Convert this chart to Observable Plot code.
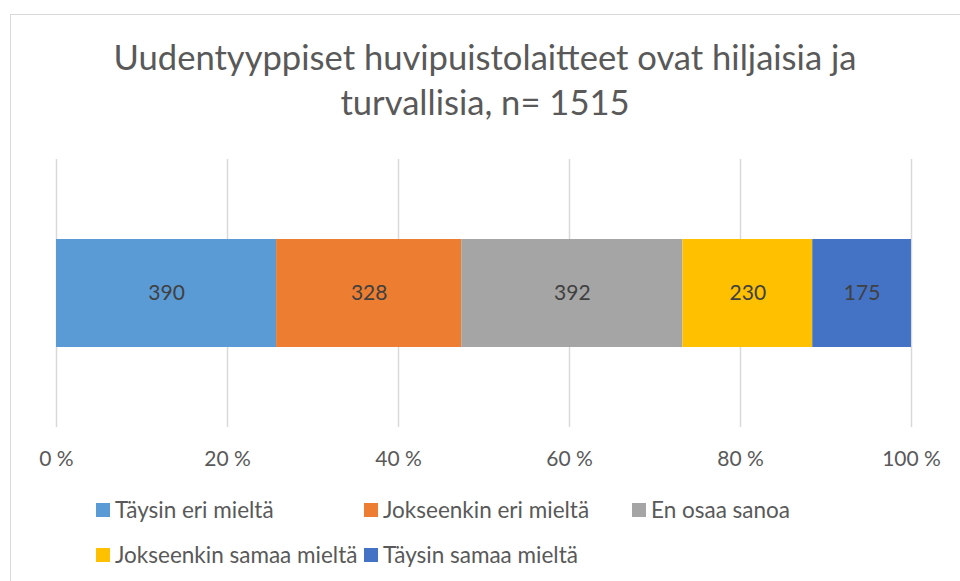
<!DOCTYPE html>
<html><head><meta charset="utf-8">
<script src="https://cdn.jsdelivr.net/npm/d3@7"></script>
<script src="https://cdn.jsdelivr.net/npm/@observablehq/plot@0.6"></script>
<style>
body{margin:0;background:#fff;font-family:Lato,sans-serif}
#wrap{position:relative;width:960px;height:581px;overflow:hidden}
#frame{position:absolute;left:10px;top:14px;width:980px;height:620px;border:1.5px solid #d9d9d9;box-sizing:border-box}
#chart{position:absolute;left:0;top:0}
#title{position:absolute;left:10px;width:950px;top:34px;text-align:center;font-size:34.6px;line-height:45px;color:#595959}
.item{position:absolute;display:flex;align-items:center;font-size:22.5px;color:#595959;white-space:nowrap}
.sw{width:14px;height:14px;margin-right:5px}
</style></head>
<body>
<div id="wrap">
  <div id="frame"></div>
  <div id="chart"></div>
  <div id="title">Uudentyyppiset huvipuistolaitteet ovat hiljaisia ja<br>turvallisia, n= 1515</div>
</div>
<script>
const categories = ["Täysin eri mieltä","Jokseenkin eri mieltä","En osaa sanoa","Jokseenkin samaa mieltä","Täysin samaa mieltä"];
const counts = [390, 328, 392, 230, 175];
const colors = ["#5B9BD5","#ED7D31","#A5A5A5","#FFC000","#4472C4"];
const xTicks = [0, 0.2, 0.4, 0.6, 0.8, 1];

const data = categories.map((c, i) => ({category: c, value: counts[i], row: "n"}));

const chart = Plot.plot({
  width: 960, height: 581,
  marginLeft: 56, marginRight: 49, marginTop: 159, marginBottom: 154,
  style: {fontFamily: "Lato, sans-serif", background: "transparent"},
  x: {domain: [0, 1], ticks: xTicks, tickFormat: d => Math.round(d * 100) + " %", grid: false, label: null},
  y: {domain: ["n"], padding: 0.4255, axis: null, label: null},
  color: {domain: categories, range: colors},
  marks: [
    Plot.gridX(xTicks, {stroke: "#d9d9d9", strokeOpacity: 1, strokeWidth: 1.5}),
    Plot.axisX({ticks: xTicks, tickSize: 0, tickPadding: 24, fontSize: 21, fill: "#595959", tickFormat: d => Math.round(d * 100) + " %", label: null}),
    Plot.barX(data, Plot.stackX({offset: "normalize", x: "value", y: "row", fill: "category", order: null})),
    Plot.text(data, Plot.stackX({offset: "normalize", x: "value", y: "row", z: "category", text: d => String(d.value), order: null, fill: "#404040", fontSize: 21}))
  ]
});
document.getElementById("chart").appendChild(chart);

const wrap = document.getElementById("wrap");
categories.forEach((c, i) => {
  const col = i < 3 ? i : i - 3;
  const row = i < 3 ? 0 : 1;
  const el = document.createElement("div");
  el.className = "item";
  el.style.left = (96 + col * 268) + "px";
  el.style.top = (496 + row * 45) + "px";
  el.innerHTML = `<span class="sw" style="background:${colors[i]}"></span><span>${c}</span>`;
  wrap.appendChild(el);
});
</script>
</body></html>
